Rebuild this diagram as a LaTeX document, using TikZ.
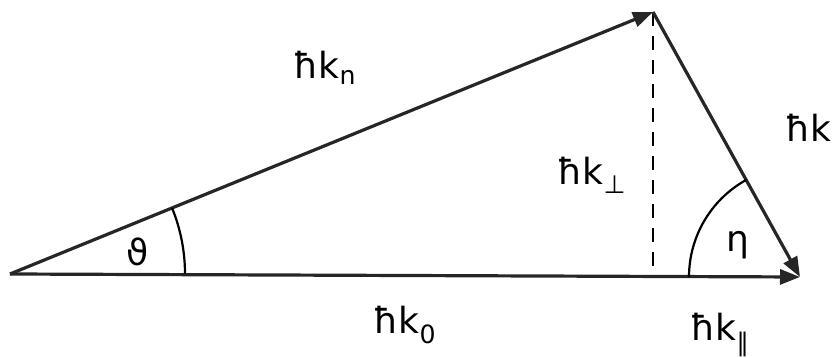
\documentclass[tikz,border=0pt]{standalone}
\usepackage{fontspec}
\setmainfont{DejaVu Sans}
\usetikzlibrary{arrows.meta}
\begin{document}
\begin{tikzpicture}[x=1pt,y=1pt,
  vec/.style={line width=3.2pt,draw=black!85,-{Triangle[length=20pt,width=15pt]}},
  anglearc/.style={line width=2.2pt},
  dashline/.style={line width=2.2pt,dash pattern=on 14pt off 10pt},
  lbl/.style={font=\fontsize{36}{40}\selectfont,inner sep=0pt}]
\useasboundingbox (0,0) rectangle (835,358);
\coordinate (A) at (10,84);
\coordinate (B) at (653,346);
\coordinate (C) at (800,81);
\coordinate (F) at (653,82);
\draw[dashline] (B) -- (F);
\draw[vec] (A) -- (B);
\draw[vec] (B) -- (C);
\draw[vec] (A) -- (C);
\draw[anglearc] ([shift={(0:175)}]A) arc (0:22.2:175);
\draw[anglearc] ([shift={(180:111)}]C) arc (180:119:111);
\node[lbl] (kn) at (325,290) {ħk\textsubscript{n}};
\node[lbl] (k) at (808,230) {ħk};
\node[lbl] (kp) at (592,183) {ħk\textsubscript{⊥}};
\node[lbl] (th) at (138,106) {ϑ};
\node[lbl] (eta) at (738,113) {η};
\node[lbl] (k0) at (405,33) {ħk\textsubscript{0}};
\node[lbl] (kpar) at (720,23) {ħk\textsubscript{∥}};
\end{tikzpicture}
\end{document}
